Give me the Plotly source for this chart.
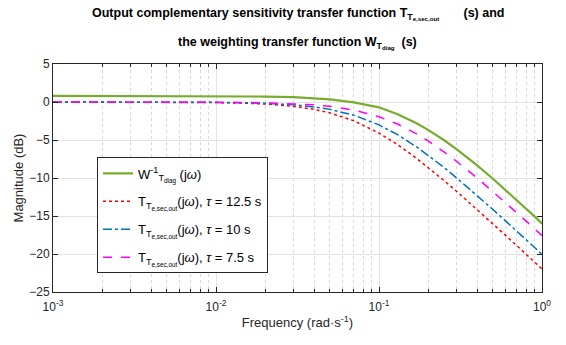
import plotly.graph_objects as go

freq = [0.001, 0.002, 0.003, 0.005, 0.007, 0.01, 0.015, 0.02, 0.03, 0.04, 0.05, 0.07,
        0.1, 0.13, 0.17, 0.2, 0.25, 0.3, 0.4, 0.5, 0.6, 0.7, 0.8, 0.9, 1.0]

w_inv = [0.80, 0.80, 0.80, 0.79, 0.79, 0.78, 0.76, 0.72, 0.63, 0.50, 0.34, -0.06,
         -0.70, -1.60, -2.80, -3.67, -5.00, -6.22, -8.33, -10.10, -11.60, -12.90, -14.05, -15.05, -16.00]
t_125 = [0.00, 0.00, -0.01, -0.02, -0.03, -0.07, -0.15, -0.26, -0.57, -0.97, -1.43, -2.47,
         -4.09, -5.61, -7.42, -8.60, -10.32, -11.78, -14.15, -16.03, -17.58, -18.90, -20.04, -21.06, -21.97]
t_10 = [0.00, 0.00, 0.00, -0.01, -0.02, -0.04, -0.10, -0.17, -0.37, -0.65, -0.97, -1.73,
        -3.01, -4.30, -5.90, -6.99, -8.60, -10.00, -12.30, -14.15, -15.68, -16.99, -18.13, -19.14, -20.04]
t_75 = [0.00, 0.00, 0.00, -0.01, -0.01, -0.02, -0.06, -0.10, -0.21, -0.37, -0.57, -1.06,
        -1.94, -2.90, -4.19, -5.12, -6.55, -7.83, -10.00, -11.78, -13.27, -14.56, -15.68, -16.68, -17.58]

names = [
    "W<sup>-1</sup><sub>T<sub>diag</sub></sub> (j<i>ω</i>)",
    "T<sub>T<sub>e,sec,out</sub></sub>(j<i>ω</i>), <i>τ</i> = 12.5 s",
    "T<sub>T<sub>e,sec,out</sub></sub>(j<i>ω</i>), <i>τ</i> = 10 s",
    "T<sub>T<sub>e,sec,out</sub></sub>(j<i>ω</i>), <i>τ</i> = 7.5 s",
]
series = [w_inv, t_125, t_10, t_75]
colors = ["#77AC30", "#FF0000", "#0072BD", "#FF00FF"]
dashes = ["solid", "dot", "dashdot", "dash"]
widths = [2.2, 1.5, 1.5, 1.5]

x_tickvals = [0.001, 0.01, 0.1, 1]
x_ticktext = ["10<sup>-3</sup>", "10<sup>-2</sup>", "10<sup>-1</sup>", "10<sup>0</sup>"]
x_minorvals = [m * d for d in (0.001, 0.01, 0.1) for m in range(2, 10)]
y_tickvals = [5, 0, -5, -10, -15, -20, -25]

fig = go.Figure()
for i, (nm, ys, c, d, w) in enumerate(zip(names, series, colors, dashes, widths)):
    fig.add_trace(go.Scatter(x=freq, y=ys, mode="lines", name=nm, legendgroup=f"g{i}",
                             line=dict(color=c, dash=d, width=w)))

font = "Liberation Sans, Arial, sans-serif"
axis_common = dict(showline=True, linecolor="#262626", linewidth=1, mirror="allticks",
                   ticks="inside", ticklen=5, tickcolor="#262626",
                   gridcolor="#e3e3e3", gridwidth=1, zeroline=False,
                   tickfont=dict(family=font, size=12, color="#262626"))

fig.update_xaxes(type="log", range=[-3, 0], tickvals=x_tickvals, ticktext=x_ticktext,
                 ticklabelstandoff=4,
                 title=dict(text="Frequency (rad·s<sup>-1</sup>)", font=dict(family=font, size=13, color="#262626"), standoff=4),
                 minor=dict(tickmode="array", tickvals=x_minorvals, showgrid=True, griddash="dot",
                            gridcolor="#d8d8d8", ticks="inside", ticklen=3, tickcolor="#262626"),
                 **axis_common)
fig.update_yaxes(range=[-25, 5], tickvals=y_tickvals,
                 title=dict(text="Magnitude (dB)", font=dict(family=font, size=13, color="#262626"), standoff=2),
                 **axis_common)

fig.add_annotation(text="<b>Output complementary sensitivity transfer function T<sub>T<sub>e,sec,out</sub></sub>       (s) and</b>",
                   xref="paper", yref="paper", x=0.5, y=1, yshift=50, xanchor="center", yanchor="middle",
                   showarrow=False, font=dict(family=font, size=12.5, color="#000000"))
fig.add_annotation(text="<b>the weighting transfer function W<sub>T<sub>diag</sub></sub>  (s)</b>",
                   xref="paper", yref="paper", x=0.5, y=1, yshift=21, xanchor="center", yanchor="middle",
                   showarrow=False, font=dict(family=font, size=12.5, color="#000000"))

fig.update_layout(
    width=566, height=345,
    margin=dict(l=53, r=24, t=64, b=53),
    paper_bgcolor="white", plot_bgcolor="white",
    showlegend=True,
    legend=dict(x=0.09, y=0.59, xanchor="left", yanchor="top",
                bgcolor="white", bordercolor="#262626", borderwidth=1,
                font=dict(family=font, size=13, color="#000000"),
                itemwidth=30, tracegroupgap=8),
)

fig.write_html("out.html")
